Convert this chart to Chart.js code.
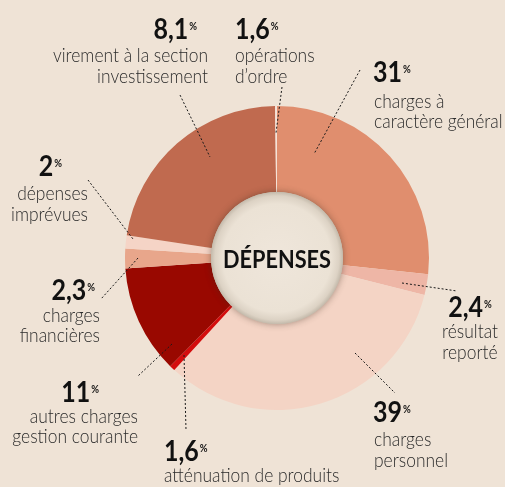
<!DOCTYPE html>
<html>
<head>
<meta charset="utf-8">
<script src="https://cdn.jsdelivr.net/npm/chart.js@4.4.1/dist/chart.umd.min.js"></script>
<style>
  html, body { margin: 0; padding: 0; background: #efe3d6; }
  #wrap { width: 505px; height: 487px; }
</style>
</head>
<body>
<div id="wrap"><canvas id="depensesChart" width="505" height="487"></canvas></div>
<script>
// Budget - dépenses (clockwise from 12 o'clock)
const categories = [
  "charges à caractère général",
  "résultat reporté",
  "charges personnel",
  "atténuation de produits",
  "autres charges gestion courante",
  "charges financières",
  "dépenses imprévues",
  "virement à la section investissement",
  "opérations d'ordre"
];

// printed percentages
const printedPercent = ["31", "2,4", "39", "1,6", "11", "2,3", "2", "8,1", "1,6"];

// share of the ring as drawn in the picture (% of the circle)
const drawnShare = [26.7, 2.2, 32.9, 0.6, 11.5, 2.1, 1.4, 22.4, 0.2];

const sliceColors = [
  "#e08e6e", "#eeb6a6", "#f4d4c5", "#d40d0d", "#990800",
  "#e8a68b", "#f5d4c6", "#c06a4f", "#f6e2d7"
];

const FONT = 'Lato, "Open Sans", sans-serif';

// where each label sits (same order as categories)
const labelLayout = [
  { nx: 373, ny: 82,  nAlign: "left",   tx: 374, ty: [108, 128], tAlign: "left",   lines: ["charges à", "caractère général"], lead: [360, 70, 314, 154] },
  { nx: 470, ny: 317, nAlign: "center", tx: 470, ty: [338, 359], tAlign: "center", lines: ["résultat", "reporté"], lead: [402, 283, 457, 291] },
  { nx: 373, ny: 422, nAlign: "left",   tx: 374, ty: [446, 467], tAlign: "left",   lines: ["charges", "personnel"], lead: [355, 353, 395, 393] },
  { nx: 164, ny: 461, nAlign: "left",   tx: 164, ty: [482],      tAlign: "left",   lines: ["atténuation de produits"], lead: [184, 355, 186, 430] },
  { nx: 99,  ny: 402, nAlign: "right",  tx: 138, ty: [423, 443], tAlign: "right",  lines: ["autres charges", "gestion courante"], lead: [172, 344, 138, 376] },
  { nx: 95,  ny: 300, nAlign: "right",  tx: 100, ty: [322, 342], tAlign: "right",  lines: ["charges", "financières"], lead: [138, 258, 101, 299] },
  { nx: 62,  ny: 176, nAlign: "right",  tx: 88,  ty: [200, 221], tAlign: "right",  lines: ["dépenses", "imprévues"], lead: [88, 180, 133, 239] },
  { nx: 197, ny: 39,  nAlign: "right",  tx: 208, ty: [62, 83],   tAlign: "right",  lines: ["virement à la section", "investissement"], lead: [180, 95, 210, 157] },
  { nx: 235, ny: 39,  nAlign: "left",   tx: 235, ty: [62, 83],   tAlign: "left",   lines: ["opérations", "d’ordre"], lead: [282, 87, 276, 133] }
];

// draw text squeezed horizontally (condensed look)
function squeezeText(ctx, text, x, y, align, sx) {
  ctx.save();
  ctx.translate(x, y);
  ctx.scale(sx, 1);
  ctx.textAlign = align;
  ctx.fillText(text, 0, 0);
  ctx.restore();
}

const labelsPlugin = {
  id: "labelsPlugin",
  afterDraw(chart) {
    const ctx = chart.ctx;
    const arc = chart.getDatasetMeta(0).data[0];
    const cx = arc.x, cy = arc.y;

    ctx.save();

    // leader lines
    ctx.strokeStyle = "#1a1a1a";
    ctx.lineWidth = 1;
    ctx.setLineDash([2, 2]);
    labelLayout.forEach(l => {
      ctx.beginPath();
      ctx.moveTo(l.lead[0], l.lead[1]);
      ctx.lineTo(l.lead[2], l.lead[3]);
      ctx.stroke();
    });
    ctx.setLineDash([]);

    const numFont = "bold 29px " + FONT;
    const pctFont = "bold 11px " + FONT;
    const txtFont = "300 20px " + FONT;

    // squeeze factors, fitted to the widths in the picture
    ctx.font = numFont;
    const sxNum = 29 / ctx.measureText("31").width;
    ctx.font = txtFont;
    const sxTxt = 155 / ctx.measureText("virement à la section").width;

    ctx.textBaseline = "alphabetic";
    labelLayout.forEach((l, i) => {
      const num = printedPercent[i];
      ctx.font = numFont;
      const wNum = ctx.measureText(num).width * sxNum;
      ctx.font = pctFont;
      const wPct = ctx.measureText("%").width * sxNum;
      const total = wNum + 1 + wPct;
      let x0 = l.nx;
      if (l.nAlign === "right") x0 = l.nx - total;
      if (l.nAlign === "center") x0 = l.nx - total / 2;
      ctx.fillStyle = "#111";
      ctx.font = numFont;
      squeezeText(ctx, num, x0, l.ny, "left", sxNum);
      ctx.font = pctFont;
      squeezeText(ctx, "%", x0 + wNum + 1, l.ny - 9, "left", sxNum);

      ctx.font = txtFont;
      ctx.fillStyle = "#2a2a2a";
      l.lines.forEach((t, k) => squeezeText(ctx, t, l.tx, l.ty[k], l.tAlign, sxTxt));
    });

    // centre disc
    const r = 66;
    ctx.save();
    ctx.shadowColor = "rgba(60,45,30,0.45)";
    ctx.shadowBlur = 7;
    ctx.beginPath();
    ctx.arc(cx, cy, r, 0, Math.PI * 2);
    ctx.fillStyle = "#c9bfb1";
    ctx.fill();
    ctx.restore();
    const g = ctx.createRadialGradient(cx, cy, 0, cx, cy, r);
    g.addColorStop(0, "#efe6db");
    g.addColorStop(0.82, "#ebe2d5");
    g.addColorStop(0.94, "#dcd2c4");
    g.addColorStop(1, "#c4baab");
    ctx.beginPath();
    ctx.arc(cx, cy, r, 0, Math.PI * 2);
    ctx.fillStyle = g;
    ctx.fill();

    ctx.fillStyle = "#111";
    ctx.font = "bold 25px " + FONT;
    const sxCentre = 108 / ctx.measureText("DÉPENSES").width;
    squeezeText(ctx, "DÉPENSES", cx, cy + 10, "center", sxCentre);

    ctx.restore();
  }
};

const ctx = document.getElementById("depensesChart").getContext("2d");
new Chart(ctx, {
  type: "doughnut",
  data: {
    labels: categories,
    datasets: [{
      data: drawnShare,
      backgroundColor: sliceColors,
      borderWidth: 0,
      hoverOffset: 0,
      offset: 0
    }]
  },
  options: {
    responsive: false,
    animation: false,
    devicePixelRatio: 1,
    cutout: 60,
    rotation: 0,
    layout: { padding: { left: 125, right: 76, top: 106, bottom: 77 } },
    plugins: {
      legend: { display: false },
      tooltip: { enabled: false }
    },
    events: []
  },
  plugins: [labelsPlugin]
});
</script>
</body>
</html>
